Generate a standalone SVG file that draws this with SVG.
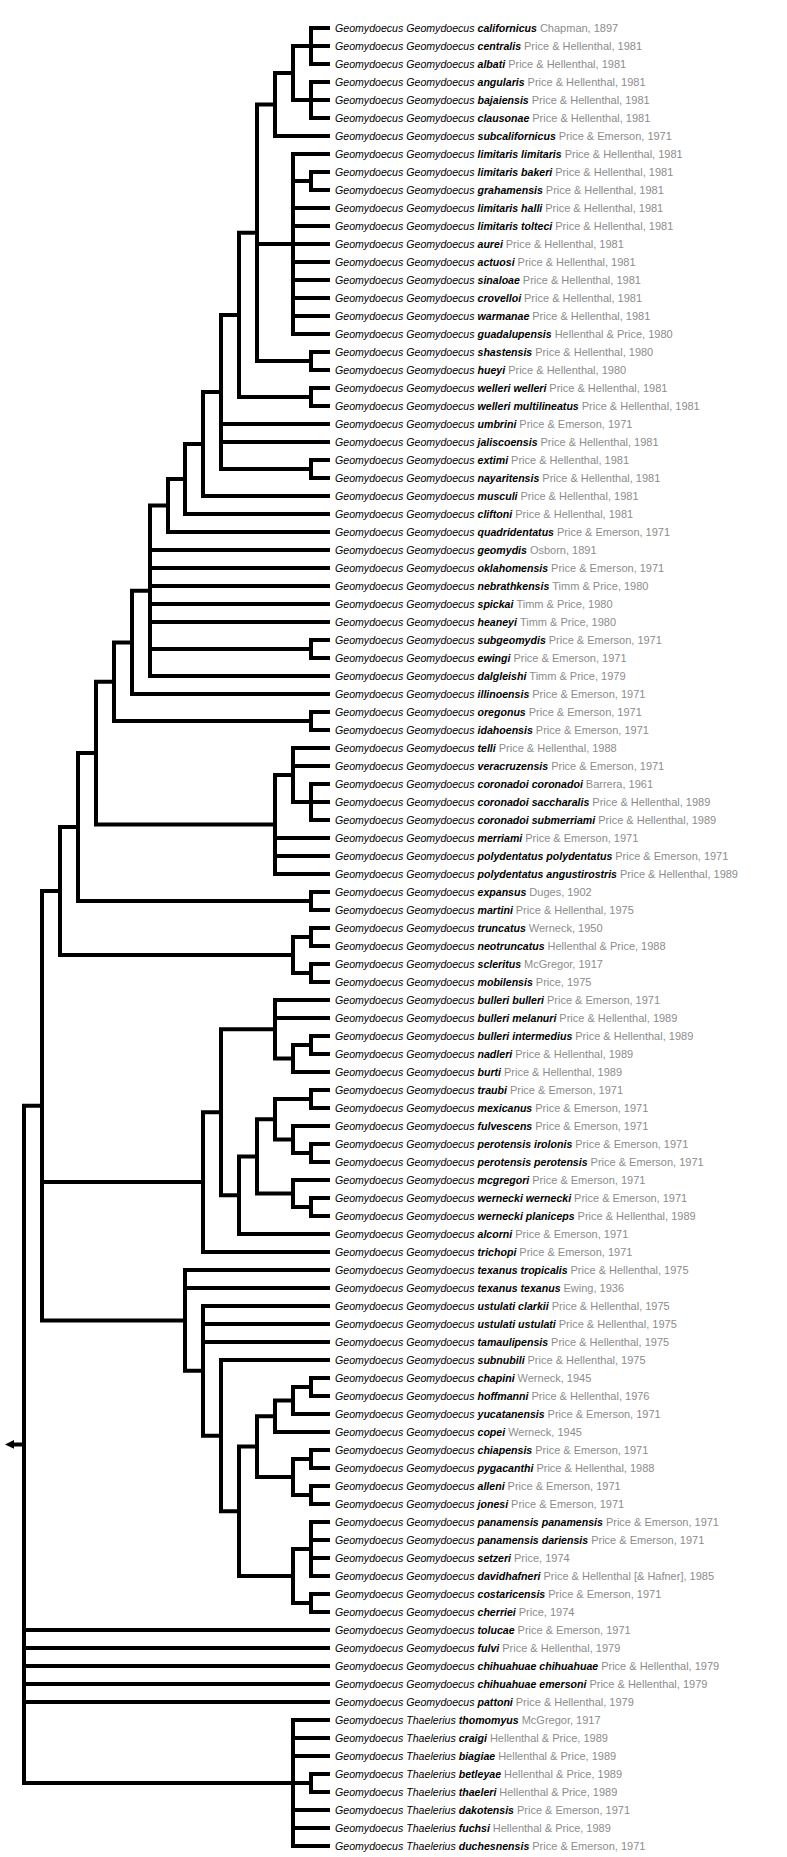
<svg xmlns="http://www.w3.org/2000/svg" width="787" height="1857" viewBox="0 0 787 1857">
<style>
.e{fill:none;stroke:#000;stroke-width:4;stroke-linecap:square;stroke-linejoin:miter}
text{font-family:"Liberation Sans",Arial,sans-serif;font-size:10.6px;font-style:italic;fill:#000}
.b{font-weight:bold}
.a{font-style:normal;font-size:11px;fill:#8c8c8c}
</style>
<rect width="787" height="1857" fill="#fff"/>
<g id="connectors" class="e">
<path d="M311 28V64M311 28H328M311 46H328M311 64H328"/>
<path d="M311 82V118M311 82H328M311 100H328M311 118H328"/>
<path d="M293 46V100M293 46H311M293 100H311"/>
<path d="M275 73V136M275 73H293M275 136H328"/>
<path d="M311 172V190M311 172H328M311 190H328"/>
<path d="M293 154V334M293 154H328M293 181H311M293 208H328M293 226H328M293 244H328M293 262H328M293 280H328M293 298H328M293 316H328M293 334H328"/>
<path d="M311 352V370M311 352H328M311 370H328"/>
<path d="M257 104.5V361M257 104.5H275M257 244H293M257 361H311"/>
<path d="M311 388V406M311 388H328M311 406H328"/>
<path d="M239 232.8V397M239 232.8H257M239 397H311"/>
<path d="M311 460V478M311 460H328M311 478H328"/>
<path d="M221 314.9V469M221 314.9H239M221 424H328M221 442H328M221 469H311"/>
<path d="M203 391.9V496M203 391.9H221M203 496H328"/>
<path d="M185 444V514M185 444H203M185 514H328"/>
<path d="M168 479V532M168 479H185M168 532H328"/>
<path d="M311 640V658M311 640H328M311 658H328"/>
<path d="M150 505.5V676M150 505.5H168M150 550H328M150 568H328M150 586H328M150 604H328M150 622H328M150 649H311M150 676H328"/>
<path d="M132 590.8V694M132 590.8H150M132 694H328"/>
<path d="M311 712V730M311 712H328M311 730H328"/>
<path d="M114 642.4V721M114 642.4H132M114 721H311"/>
<path d="M311 784V820M311 784H328M311 802H328M311 820H328"/>
<path d="M293 748V802M293 748H328M293 766H328M293 802H311"/>
<path d="M275 775V874M275 775H293M275 838H328M275 856H328M275 874H328"/>
<path d="M96 681.7V824.5M96 681.7H114M96 824.5H275"/>
<path d="M311 892V910M311 892H328M311 910H328"/>
<path d="M78 753.1V901M78 753.1H96M78 901H311"/>
<path d="M311 928V946M311 928H328M311 946H328"/>
<path d="M311 964V982M311 964H328M311 982H328"/>
<path d="M293 937V973M293 937H311M293 973H311"/>
<path d="M60 827V955M60 827H78M60 955H293"/>
<path d="M311 1036V1054M311 1036H328M311 1054H328"/>
<path d="M293 1045V1072M293 1045H311M293 1072H328"/>
<path d="M275 1000V1058.5M275 1000H328M275 1018H328M275 1058.5H293"/>
<path d="M311 1090V1108M311 1090H328M311 1108H328"/>
<path d="M311 1144V1162M311 1144H328M311 1162H328"/>
<path d="M293 1126V1153M293 1126H328M293 1153H311"/>
<path d="M275 1099V1139.5M275 1099H311M275 1139.5H293"/>
<path d="M311 1198V1216M311 1198H328M311 1216H328"/>
<path d="M293 1180V1207M293 1180H328M293 1207H311"/>
<path d="M257 1119.3V1193.5M257 1119.3H275M257 1193.5H293"/>
<path d="M239 1156.4V1234M239 1156.4H257M239 1234H328"/>
<path d="M221 1029.3V1195.2M221 1029.3H275M221 1195.2H239"/>
<path d="M203 1112.2V1252M203 1112.2H221M203 1252H328"/>
<path d="M311 1378V1396M311 1378H328M311 1396H328"/>
<path d="M293 1387V1414M293 1387H311M293 1414H328"/>
<path d="M275 1400.5V1432M275 1400.5H293M275 1432H328"/>
<path d="M311 1450V1468M311 1450H328M311 1468H328"/>
<path d="M311 1486V1504M311 1486H328M311 1504H328"/>
<path d="M293 1459V1495M293 1459H311M293 1495H311"/>
<path d="M257 1416.3V1477M257 1416.3H275M257 1477H293"/>
<path d="M311 1522V1576M311 1522H328M311 1540H328M311 1558H328M311 1576H328"/>
<path d="M311 1594V1612M311 1594H328M311 1612H328"/>
<path d="M293 1549V1603M293 1549H311M293 1603H311"/>
<path d="M239 1446.6V1576M239 1446.6H257M239 1576H293"/>
<path d="M221 1360V1511.3M221 1360H328M221 1511.3H239"/>
<path d="M203 1306V1435.7M203 1306H328M203 1324H328M203 1342H328M203 1435.7H221"/>
<path d="M185 1270V1370.8M185 1270H328M185 1288H328M185 1370.8H203"/>
<path d="M42 891V1320.4M42 891H60M42 1182.1H203M42 1320.4H185"/>
<path d="M311 1774V1792M311 1774H328M311 1792H328"/>
<path d="M293 1720V1846M293 1720H328M293 1738H328M293 1756H328M293 1783H311M293 1810H328M293 1828H328M293 1846H328"/>
<path d="M24 1105.7V1783M24 1105.7H42M24 1630H328M24 1648H328M24 1666H328M24 1684H328M24 1702H328M24 1783H293M24 1444.4H14"/>
<polygon points="5,1444.4 14,1440 14,1448.8" fill="#000" stroke="none"/>
</g>
<g id="leaf-1"><text x="335" y="32">Geomydoecus Geomydoecus <tspan class="b">californicus</tspan> <tspan class="a">Chapman, 1897</tspan></text></g>
<g id="leaf-2"><text x="335" y="50">Geomydoecus Geomydoecus <tspan class="b">centralis</tspan> <tspan class="a">Price &amp; Hellenthal, 1981</tspan></text></g>
<g id="leaf-3"><text x="335" y="68">Geomydoecus Geomydoecus <tspan class="b">albati</tspan> <tspan class="a">Price &amp; Hellenthal, 1981</tspan></text></g>
<g id="leaf-4"><text x="335" y="86">Geomydoecus Geomydoecus <tspan class="b">angularis</tspan> <tspan class="a">Price &amp; Hellenthal, 1981</tspan></text></g>
<g id="leaf-5"><text x="335" y="104">Geomydoecus Geomydoecus <tspan class="b">bajaiensis</tspan> <tspan class="a">Price &amp; Hellenthal, 1981</tspan></text></g>
<g id="leaf-6"><text x="335" y="122">Geomydoecus Geomydoecus <tspan class="b">clausonae</tspan> <tspan class="a">Price &amp; Hellenthal, 1981</tspan></text></g>
<g id="leaf-7"><text x="335" y="140">Geomydoecus Geomydoecus <tspan class="b">subcalifornicus</tspan> <tspan class="a">Price &amp; Emerson, 1971</tspan></text></g>
<g id="leaf-8"><text x="335" y="158">Geomydoecus Geomydoecus <tspan class="b">limitaris limitaris</tspan> <tspan class="a">Price &amp; Hellenthal, 1981</tspan></text></g>
<g id="leaf-9"><text x="335" y="176">Geomydoecus Geomydoecus <tspan class="b">limitaris bakeri</tspan> <tspan class="a">Price &amp; Hellenthal, 1981</tspan></text></g>
<g id="leaf-10"><text x="335" y="194">Geomydoecus Geomydoecus <tspan class="b">grahamensis</tspan> <tspan class="a">Price &amp; Hellenthal, 1981</tspan></text></g>
<g id="leaf-11"><text x="335" y="212">Geomydoecus Geomydoecus <tspan class="b">limitaris halli</tspan> <tspan class="a">Price &amp; Hellenthal, 1981</tspan></text></g>
<g id="leaf-12"><text x="335" y="230">Geomydoecus Geomydoecus <tspan class="b">limitaris tolteci</tspan> <tspan class="a">Price &amp; Hellenthal, 1981</tspan></text></g>
<g id="leaf-13"><text x="335" y="248">Geomydoecus Geomydoecus <tspan class="b">aurei</tspan> <tspan class="a">Price &amp; Hellenthal, 1981</tspan></text></g>
<g id="leaf-14"><text x="335" y="266">Geomydoecus Geomydoecus <tspan class="b">actuosi</tspan> <tspan class="a">Price &amp; Hellenthal, 1981</tspan></text></g>
<g id="leaf-15"><text x="335" y="284">Geomydoecus Geomydoecus <tspan class="b">sinaloae</tspan> <tspan class="a">Price &amp; Hellenthal, 1981</tspan></text></g>
<g id="leaf-16"><text x="335" y="302">Geomydoecus Geomydoecus <tspan class="b">crovelloi</tspan> <tspan class="a">Price &amp; Hellenthal, 1981</tspan></text></g>
<g id="leaf-17"><text x="335" y="320">Geomydoecus Geomydoecus <tspan class="b">warmanae</tspan> <tspan class="a">Price &amp; Hellenthal, 1981</tspan></text></g>
<g id="leaf-18"><text x="335" y="338">Geomydoecus Geomydoecus <tspan class="b">guadalupensis</tspan> <tspan class="a">Hellenthal &amp; Price, 1980</tspan></text></g>
<g id="leaf-19"><text x="335" y="356">Geomydoecus Geomydoecus <tspan class="b">shastensis</tspan> <tspan class="a">Price &amp; Hellenthal, 1980</tspan></text></g>
<g id="leaf-20"><text x="335" y="374">Geomydoecus Geomydoecus <tspan class="b">hueyi</tspan> <tspan class="a">Price &amp; Hellenthal, 1980</tspan></text></g>
<g id="leaf-21"><text x="335" y="392">Geomydoecus Geomydoecus <tspan class="b">welleri welleri</tspan> <tspan class="a">Price &amp; Hellenthal, 1981</tspan></text></g>
<g id="leaf-22"><text x="335" y="410">Geomydoecus Geomydoecus <tspan class="b">welleri multilineatus</tspan> <tspan class="a">Price &amp; Hellenthal, 1981</tspan></text></g>
<g id="leaf-23"><text x="335" y="428">Geomydoecus Geomydoecus <tspan class="b">umbrini</tspan> <tspan class="a">Price &amp; Emerson, 1971</tspan></text></g>
<g id="leaf-24"><text x="335" y="446">Geomydoecus Geomydoecus <tspan class="b">jaliscoensis</tspan> <tspan class="a">Price &amp; Hellenthal, 1981</tspan></text></g>
<g id="leaf-25"><text x="335" y="464">Geomydoecus Geomydoecus <tspan class="b">extimi</tspan> <tspan class="a">Price &amp; Hellenthal, 1981</tspan></text></g>
<g id="leaf-26"><text x="335" y="482">Geomydoecus Geomydoecus <tspan class="b">nayaritensis</tspan> <tspan class="a">Price &amp; Hellenthal, 1981</tspan></text></g>
<g id="leaf-27"><text x="335" y="500">Geomydoecus Geomydoecus <tspan class="b">musculi</tspan> <tspan class="a">Price &amp; Hellenthal, 1981</tspan></text></g>
<g id="leaf-28"><text x="335" y="518">Geomydoecus Geomydoecus <tspan class="b">cliftoni</tspan> <tspan class="a">Price &amp; Hellenthal, 1981</tspan></text></g>
<g id="leaf-29"><text x="335" y="536">Geomydoecus Geomydoecus <tspan class="b">quadridentatus</tspan> <tspan class="a">Price &amp; Emerson, 1971</tspan></text></g>
<g id="leaf-30"><text x="335" y="554">Geomydoecus Geomydoecus <tspan class="b">geomydis</tspan> <tspan class="a">Osborn, 1891</tspan></text></g>
<g id="leaf-31"><text x="335" y="572">Geomydoecus Geomydoecus <tspan class="b">oklahomensis</tspan> <tspan class="a">Price &amp; Emerson, 1971</tspan></text></g>
<g id="leaf-32"><text x="335" y="590">Geomydoecus Geomydoecus <tspan class="b">nebrathkensis</tspan> <tspan class="a">Timm &amp; Price, 1980</tspan></text></g>
<g id="leaf-33"><text x="335" y="608">Geomydoecus Geomydoecus <tspan class="b">spickai</tspan> <tspan class="a">Timm &amp; Price, 1980</tspan></text></g>
<g id="leaf-34"><text x="335" y="626">Geomydoecus Geomydoecus <tspan class="b">heaneyi</tspan> <tspan class="a">Timm &amp; Price, 1980</tspan></text></g>
<g id="leaf-35"><text x="335" y="644">Geomydoecus Geomydoecus <tspan class="b">subgeomydis</tspan> <tspan class="a">Price &amp; Emerson, 1971</tspan></text></g>
<g id="leaf-36"><text x="335" y="662">Geomydoecus Geomydoecus <tspan class="b">ewingi</tspan> <tspan class="a">Price &amp; Emerson, 1971</tspan></text></g>
<g id="leaf-37"><text x="335" y="680">Geomydoecus Geomydoecus <tspan class="b">dalgleishi</tspan> <tspan class="a">Timm &amp; Price, 1979</tspan></text></g>
<g id="leaf-38"><text x="335" y="698">Geomydoecus Geomydoecus <tspan class="b">illinoensis</tspan> <tspan class="a">Price &amp; Emerson, 1971</tspan></text></g>
<g id="leaf-39"><text x="335" y="716">Geomydoecus Geomydoecus <tspan class="b">oregonus</tspan> <tspan class="a">Price &amp; Emerson, 1971</tspan></text></g>
<g id="leaf-40"><text x="335" y="734">Geomydoecus Geomydoecus <tspan class="b">idahoensis</tspan> <tspan class="a">Price &amp; Emerson, 1971</tspan></text></g>
<g id="leaf-41"><text x="335" y="752">Geomydoecus Geomydoecus <tspan class="b">telli</tspan> <tspan class="a">Price &amp; Hellenthal, 1988</tspan></text></g>
<g id="leaf-42"><text x="335" y="770">Geomydoecus Geomydoecus <tspan class="b">veracruzensis</tspan> <tspan class="a">Price &amp; Emerson, 1971</tspan></text></g>
<g id="leaf-43"><text x="335" y="788">Geomydoecus Geomydoecus <tspan class="b">coronadoi coronadoi</tspan> <tspan class="a">Barrera, 1961</tspan></text></g>
<g id="leaf-44"><text x="335" y="806">Geomydoecus Geomydoecus <tspan class="b">coronadoi saccharalis</tspan> <tspan class="a">Price &amp; Hellenthal, 1989</tspan></text></g>
<g id="leaf-45"><text x="335" y="824">Geomydoecus Geomydoecus <tspan class="b">coronadoi submerriami</tspan> <tspan class="a">Price &amp; Hellenthal, 1989</tspan></text></g>
<g id="leaf-46"><text x="335" y="842">Geomydoecus Geomydoecus <tspan class="b">merriami</tspan> <tspan class="a">Price &amp; Emerson, 1971</tspan></text></g>
<g id="leaf-47"><text x="335" y="860">Geomydoecus Geomydoecus <tspan class="b">polydentatus polydentatus</tspan> <tspan class="a">Price &amp; Emerson, 1971</tspan></text></g>
<g id="leaf-48"><text x="335" y="878">Geomydoecus Geomydoecus <tspan class="b">polydentatus angustirostris</tspan> <tspan class="a">Price &amp; Hellenthal, 1989</tspan></text></g>
<g id="leaf-49"><text x="335" y="896">Geomydoecus Geomydoecus <tspan class="b">expansus</tspan> <tspan class="a">Duges, 1902</tspan></text></g>
<g id="leaf-50"><text x="335" y="914">Geomydoecus Geomydoecus <tspan class="b">martini</tspan> <tspan class="a">Price &amp; Hellenthal, 1975</tspan></text></g>
<g id="leaf-51"><text x="335" y="932">Geomydoecus Geomydoecus <tspan class="b">truncatus</tspan> <tspan class="a">Werneck, 1950</tspan></text></g>
<g id="leaf-52"><text x="335" y="950">Geomydoecus Geomydoecus <tspan class="b">neotruncatus</tspan> <tspan class="a">Hellenthal &amp; Price, 1988</tspan></text></g>
<g id="leaf-53"><text x="335" y="968">Geomydoecus Geomydoecus <tspan class="b">scleritus</tspan> <tspan class="a">McGregor, 1917</tspan></text></g>
<g id="leaf-54"><text x="335" y="986">Geomydoecus Geomydoecus <tspan class="b">mobilensis</tspan> <tspan class="a">Price, 1975</tspan></text></g>
<g id="leaf-55"><text x="335" y="1004">Geomydoecus Geomydoecus <tspan class="b">bulleri bulleri</tspan> <tspan class="a">Price &amp; Emerson, 1971</tspan></text></g>
<g id="leaf-56"><text x="335" y="1022">Geomydoecus Geomydoecus <tspan class="b">bulleri melanuri</tspan> <tspan class="a">Price &amp; Hellenthal, 1989</tspan></text></g>
<g id="leaf-57"><text x="335" y="1040">Geomydoecus Geomydoecus <tspan class="b">bulleri intermedius</tspan> <tspan class="a">Price &amp; Hellenthal, 1989</tspan></text></g>
<g id="leaf-58"><text x="335" y="1058">Geomydoecus Geomydoecus <tspan class="b">nadleri</tspan> <tspan class="a">Price &amp; Hellenthal, 1989</tspan></text></g>
<g id="leaf-59"><text x="335" y="1076">Geomydoecus Geomydoecus <tspan class="b">burti</tspan> <tspan class="a">Price &amp; Hellenthal, 1989</tspan></text></g>
<g id="leaf-60"><text x="335" y="1094">Geomydoecus Geomydoecus <tspan class="b">traubi</tspan> <tspan class="a">Price &amp; Emerson, 1971</tspan></text></g>
<g id="leaf-61"><text x="335" y="1112">Geomydoecus Geomydoecus <tspan class="b">mexicanus</tspan> <tspan class="a">Price &amp; Emerson, 1971</tspan></text></g>
<g id="leaf-62"><text x="335" y="1130">Geomydoecus Geomydoecus <tspan class="b">fulvescens</tspan> <tspan class="a">Price &amp; Emerson, 1971</tspan></text></g>
<g id="leaf-63"><text x="335" y="1148">Geomydoecus Geomydoecus <tspan class="b">perotensis irolonis</tspan> <tspan class="a">Price &amp; Emerson, 1971</tspan></text></g>
<g id="leaf-64"><text x="335" y="1166">Geomydoecus Geomydoecus <tspan class="b">perotensis perotensis</tspan> <tspan class="a">Price &amp; Emerson, 1971</tspan></text></g>
<g id="leaf-65"><text x="335" y="1184">Geomydoecus Geomydoecus <tspan class="b">mcgregori</tspan> <tspan class="a">Price &amp; Emerson, 1971</tspan></text></g>
<g id="leaf-66"><text x="335" y="1202">Geomydoecus Geomydoecus <tspan class="b">wernecki wernecki</tspan> <tspan class="a">Price &amp; Emerson, 1971</tspan></text></g>
<g id="leaf-67"><text x="335" y="1220">Geomydoecus Geomydoecus <tspan class="b">wernecki planiceps</tspan> <tspan class="a">Price &amp; Hellenthal, 1989</tspan></text></g>
<g id="leaf-68"><text x="335" y="1238">Geomydoecus Geomydoecus <tspan class="b">alcorni</tspan> <tspan class="a">Price &amp; Emerson, 1971</tspan></text></g>
<g id="leaf-69"><text x="335" y="1256">Geomydoecus Geomydoecus <tspan class="b">trichopi</tspan> <tspan class="a">Price &amp; Emerson, 1971</tspan></text></g>
<g id="leaf-70"><text x="335" y="1274">Geomydoecus Geomydoecus <tspan class="b">texanus tropicalis</tspan> <tspan class="a">Price &amp; Hellenthal, 1975</tspan></text></g>
<g id="leaf-71"><text x="335" y="1292">Geomydoecus Geomydoecus <tspan class="b">texanus texanus</tspan> <tspan class="a">Ewing, 1936</tspan></text></g>
<g id="leaf-72"><text x="335" y="1310">Geomydoecus Geomydoecus <tspan class="b">ustulati clarkii</tspan> <tspan class="a">Price &amp; Hellenthal, 1975</tspan></text></g>
<g id="leaf-73"><text x="335" y="1328">Geomydoecus Geomydoecus <tspan class="b">ustulati ustulati</tspan> <tspan class="a">Price &amp; Hellenthal, 1975</tspan></text></g>
<g id="leaf-74"><text x="335" y="1346">Geomydoecus Geomydoecus <tspan class="b">tamaulipensis</tspan> <tspan class="a">Price &amp; Hellenthal, 1975</tspan></text></g>
<g id="leaf-75"><text x="335" y="1364">Geomydoecus Geomydoecus <tspan class="b">subnubili</tspan> <tspan class="a">Price &amp; Hellenthal, 1975</tspan></text></g>
<g id="leaf-76"><text x="335" y="1382">Geomydoecus Geomydoecus <tspan class="b">chapini</tspan> <tspan class="a">Werneck, 1945</tspan></text></g>
<g id="leaf-77"><text x="335" y="1400">Geomydoecus Geomydoecus <tspan class="b">hoffmanni</tspan> <tspan class="a">Price &amp; Hellenthal, 1976</tspan></text></g>
<g id="leaf-78"><text x="335" y="1418">Geomydoecus Geomydoecus <tspan class="b">yucatanensis</tspan> <tspan class="a">Price &amp; Emerson, 1971</tspan></text></g>
<g id="leaf-79"><text x="335" y="1436">Geomydoecus Geomydoecus <tspan class="b">copei</tspan> <tspan class="a">Werneck, 1945</tspan></text></g>
<g id="leaf-80"><text x="335" y="1454">Geomydoecus Geomydoecus <tspan class="b">chiapensis</tspan> <tspan class="a">Price &amp; Emerson, 1971</tspan></text></g>
<g id="leaf-81"><text x="335" y="1472">Geomydoecus Geomydoecus <tspan class="b">pygacanthi</tspan> <tspan class="a">Price &amp; Hellenthal, 1988</tspan></text></g>
<g id="leaf-82"><text x="335" y="1490">Geomydoecus Geomydoecus <tspan class="b">alleni</tspan> <tspan class="a">Price &amp; Emerson, 1971</tspan></text></g>
<g id="leaf-83"><text x="335" y="1508">Geomydoecus Geomydoecus <tspan class="b">jonesi</tspan> <tspan class="a">Price &amp; Emerson, 1971</tspan></text></g>
<g id="leaf-84"><text x="335" y="1526">Geomydoecus Geomydoecus <tspan class="b">panamensis panamensis</tspan> <tspan class="a">Price &amp; Emerson, 1971</tspan></text></g>
<g id="leaf-85"><text x="335" y="1544">Geomydoecus Geomydoecus <tspan class="b">panamensis dariensis</tspan> <tspan class="a">Price &amp; Emerson, 1971</tspan></text></g>
<g id="leaf-86"><text x="335" y="1562">Geomydoecus Geomydoecus <tspan class="b">setzeri</tspan> <tspan class="a">Price, 1974</tspan></text></g>
<g id="leaf-87"><text x="335" y="1580">Geomydoecus Geomydoecus <tspan class="b">davidhafneri</tspan> <tspan class="a">Price &amp; Hellenthal [&amp; Hafner], 1985</tspan></text></g>
<g id="leaf-88"><text x="335" y="1598">Geomydoecus Geomydoecus <tspan class="b">costaricensis</tspan> <tspan class="a">Price &amp; Emerson, 1971</tspan></text></g>
<g id="leaf-89"><text x="335" y="1616">Geomydoecus Geomydoecus <tspan class="b">cherriei</tspan> <tspan class="a">Price, 1974</tspan></text></g>
<g id="leaf-90"><text x="335" y="1634">Geomydoecus Geomydoecus <tspan class="b">tolucae</tspan> <tspan class="a">Price &amp; Emerson, 1971</tspan></text></g>
<g id="leaf-91"><text x="335" y="1652">Geomydoecus Geomydoecus <tspan class="b">fulvi</tspan> <tspan class="a">Price &amp; Hellenthal, 1979</tspan></text></g>
<g id="leaf-92"><text x="335" y="1670">Geomydoecus Geomydoecus <tspan class="b">chihuahuae chihuahuae</tspan> <tspan class="a">Price &amp; Hellenthal, 1979</tspan></text></g>
<g id="leaf-93"><text x="335" y="1688">Geomydoecus Geomydoecus <tspan class="b">chihuahuae emersoni</tspan> <tspan class="a">Price &amp; Hellenthal, 1979</tspan></text></g>
<g id="leaf-94"><text x="335" y="1706">Geomydoecus Geomydoecus <tspan class="b">pattoni</tspan> <tspan class="a">Price &amp; Hellenthal, 1979</tspan></text></g>
<g id="leaf-95"><text x="335" y="1724">Geomydoecus Thaelerius <tspan class="b">thomomyus</tspan> <tspan class="a">McGregor, 1917</tspan></text></g>
<g id="leaf-96"><text x="335" y="1742">Geomydoecus Thaelerius <tspan class="b">craigi</tspan> <tspan class="a">Hellenthal &amp; Price, 1989</tspan></text></g>
<g id="leaf-97"><text x="335" y="1760">Geomydoecus Thaelerius <tspan class="b">biagiae</tspan> <tspan class="a">Hellenthal &amp; Price, 1989</tspan></text></g>
<g id="leaf-98"><text x="335" y="1778">Geomydoecus Thaelerius <tspan class="b">betleyae</tspan> <tspan class="a">Hellenthal &amp; Price, 1989</tspan></text></g>
<g id="leaf-99"><text x="335" y="1796">Geomydoecus Thaelerius <tspan class="b">thaeleri</tspan> <tspan class="a">Hellenthal &amp; Price, 1989</tspan></text></g>
<g id="leaf-100"><text x="335" y="1814">Geomydoecus Thaelerius <tspan class="b">dakotensis</tspan> <tspan class="a">Price &amp; Emerson, 1971</tspan></text></g>
<g id="leaf-101"><text x="335" y="1832">Geomydoecus Thaelerius <tspan class="b">fuchsi</tspan> <tspan class="a">Hellenthal &amp; Price, 1989</tspan></text></g>
<g id="leaf-102"><text x="335" y="1850">Geomydoecus Thaelerius <tspan class="b">duchesnensis</tspan> <tspan class="a">Price &amp; Emerson, 1971</tspan></text></g>
</svg>
